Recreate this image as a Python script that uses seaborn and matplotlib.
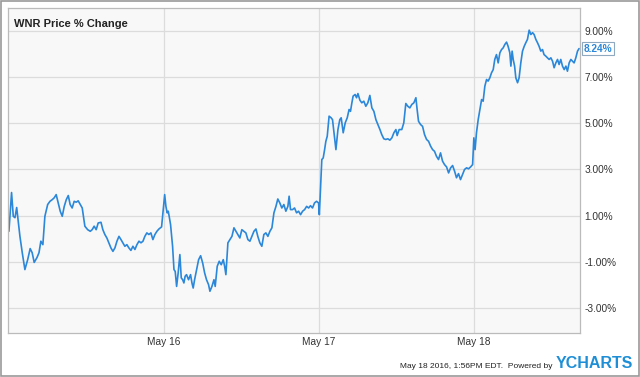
import numpy as np
import pandas as pd
import matplotlib.pyplot as plt
import seaborn as sns
from matplotlib.patches import Rectangle

# data: trading time in days from the left edge, % change
day_pos = [
    0.000, 0.017, 0.028, 0.039, 0.050, 0.060, 0.071, 0.086, 0.103, 0.121, 0.137, 0.150, 0.163, 0.181,
    0.194, 0.206, 0.219, 0.232, 0.250, 0.265, 0.279, 0.292, 0.305, 0.318, 0.331, 0.344, 0.357, 0.370,
    0.383, 0.395, 0.408, 0.421, 0.434, 0.447, 0.460, 0.473, 0.490, 0.508, 0.525, 0.537, 0.550, 0.563,
    0.576, 0.594, 0.606, 0.619, 0.632, 0.645, 0.658, 0.671, 0.684, 0.697, 0.710, 0.723, 0.735, 0.748,
    0.761, 0.774, 0.787, 0.800, 0.813, 0.826, 0.839, 0.852, 0.865, 0.877, 0.890, 0.903, 0.916, 0.929,
    0.942, 0.955, 0.968, 0.985,
    1.005, 1.013, 1.021, 1.028, 1.034, 1.043, 1.056, 1.065, 1.073, 1.082, 1.092, 1.103, 1.112, 1.121,
    1.129, 1.137, 1.146, 1.159, 1.172, 1.181, 1.189, 1.198, 1.211, 1.224, 1.237, 1.250, 1.263, 1.275,
    1.288, 1.297, 1.310, 1.323, 1.331, 1.344, 1.357, 1.370, 1.383, 1.392, 1.400, 1.413, 1.426, 1.439,
    1.452, 1.465, 1.477, 1.490, 1.503, 1.516, 1.529, 1.542, 1.555, 1.568, 1.581, 1.594, 1.606, 1.619,
    1.632, 1.645, 1.658, 1.671, 1.684, 1.697, 1.710, 1.723, 1.735, 1.748, 1.761, 1.774, 1.787, 1.800,
    1.808, 1.817, 1.830, 1.843, 1.856, 1.869, 1.882, 1.895, 1.908, 1.921, 1.934, 1.946, 1.959, 1.972,
    1.985, 1.998,
    2.003, 2.019, 2.028, 2.037, 2.045, 2.054, 2.066, 2.079, 2.088, 2.101, 2.110, 2.123, 2.135, 2.144,
    2.157, 2.170, 2.183, 2.195, 2.204, 2.213, 2.221, 2.234, 2.243, 2.252, 2.265, 2.277, 2.290, 2.303,
    2.316, 2.329, 2.342, 2.355, 2.368, 2.381, 2.394, 2.406, 2.419, 2.432, 2.445, 2.458, 2.471, 2.484,
    2.497, 2.505, 2.518, 2.535, 2.548, 2.561, 2.574, 2.587, 2.600, 2.613, 2.626, 2.634, 2.643, 2.656,
    2.669, 2.682, 2.695, 2.708, 2.721, 2.734, 2.746, 2.759, 2.772, 2.785, 2.798, 2.811, 2.824, 2.837,
    2.850, 2.863, 2.876, 2.888, 2.901, 2.914, 2.927, 2.940, 2.953, 2.966, 2.979, 2.992,
    3.000, 3.008, 3.017, 3.028, 3.039, 3.050, 3.060, 3.071, 3.082, 3.092, 3.103, 3.114, 3.125, 3.135,
    3.146, 3.157, 3.168, 3.179, 3.189, 3.200, 3.211, 3.221, 3.232, 3.239, 3.247, 3.254, 3.263, 3.271,
    3.282, 3.292, 3.303, 3.314, 3.325, 3.335, 3.346, 3.357, 3.368, 3.379, 3.389, 3.400, 3.411, 3.421,
    3.432, 3.443, 3.453, 3.465, 3.475, 3.486, 3.497, 3.508, 3.518, 3.529, 3.540, 3.550, 3.561, 3.572,
    3.583, 3.594, 3.604, 3.615, 3.626, 3.637, 3.647, 3.658, 3.669, 3.679,
]
pct_change = [
    0.32, 2.00, 0.97, 0.91, 1.35, 0.75, 0.10, -0.61, -1.34, -0.91, -0.43, -0.61, -1.03, -0.82,
    -0.61, -0.11, -0.26, 0.97, 1.48, 1.62, 1.69, 1.77, 1.91, 1.55, 1.19, 0.97, 1.40, 1.69,
    1.87, 1.48, 1.33, 1.62, 1.58, 1.64, 1.48, 1.33, 0.54, 0.39, 0.32, 0.39, 0.54, 0.39,
    0.68, 0.71, 0.39, 0.18, 0.03, -0.18, -0.40, -0.55, -0.40, -0.11, 0.10, -0.04, -0.18, -0.33,
    -0.26, -0.40, -0.51, -0.33, -0.47, -0.26, -0.11, -0.18, -0.11, 0.10, 0.25, 0.18, 0.25, -0.04,
    0.18, 0.32, 0.42, 0.51,
    1.91, 1.40, 1.12, 1.19, 0.97, 0.61, -0.33, -1.34, -1.42, -2.07, -1.49, -0.69, -1.70, -1.78,
    -1.92, -1.63, -1.56, -1.78, -1.56, -1.92, -2.14, -1.78, -1.34, -0.91, -0.74, -1.05, -1.49, -1.78,
    -1.99, -2.28, -2.07, -1.78, -2.07, -1.20, -0.98, -1.13, -0.91, -1.20, -1.56, -0.18, -0.04, 0.10,
    0.47, 0.32, 0.18, 0.03, 0.39, 0.32, 0.25, -0.04, -0.11, 0.10, 0.32, 0.42, 0.10, -0.18,
    -0.33, 0.18, 0.25, 0.10, 0.32, 0.47, 1.12, 1.40, 1.72, 1.55, 1.33, 1.48, 1.19, 1.40,
    1.84, 1.26, 1.26, 1.33, 1.12, 1.19, 1.04, 1.19, 1.26, 1.40, 1.33, 1.43, 1.33, 1.55,
    1.62, 1.55,
    1.04, 3.43, 3.50, 3.86, 4.22, 4.44, 5.31, 5.24, 5.16, 4.37, 3.86, 4.73, 5.16, 5.24,
    4.59, 5.02, 5.24, 5.60, 5.52, 5.89, 6.18, 6.25, 6.11, 6.29, 6.00, 5.89, 5.96, 5.74,
    5.89, 6.21, 5.67, 5.52, 5.16, 4.95, 4.73, 4.51, 4.33, 4.30, 4.33, 4.27, 4.37, 4.59,
    4.73, 4.47, 4.73, 4.73, 5.02, 5.86, 5.74, 5.67, 5.82, 5.89, 6.11, 5.60, 5.09, 4.95,
    4.87, 4.51, 4.30, 4.22, 4.01, 3.86, 3.79, 3.57, 3.43, 3.72, 3.36, 3.21, 3.11, 2.85,
    3.07, 3.17, 2.92, 2.64, 2.82, 2.56, 2.78, 3.00, 3.07, 3.03, 3.11, 3.21,
    4.37, 3.86, 4.59, 5.16, 5.60, 6.03, 5.96, 6.61, 6.90, 6.83, 6.97, 7.19, 7.33, 7.77,
    7.98, 7.62, 8.06, 8.20, 8.27, 8.42, 8.52, 8.34, 8.06, 7.48, 8.13, 7.77, 7.48, 6.97,
    6.76, 6.97, 7.62, 8.13, 8.34, 8.49, 8.64, 9.04, 8.85, 8.93, 8.85, 8.64, 8.49, 8.34,
    8.13, 8.20, 7.98, 7.91, 7.84, 7.77, 7.84, 7.69, 7.41, 7.62, 7.77, 7.55, 7.77, 7.48,
    7.33, 7.48, 7.26, 7.62, 7.77, 7.69, 7.62, 7.84, 8.13, 8.24,
]
date_ticks = [1, 2, 3]
date_labels = ['May 16', 'May 17', 'May 18']
pct_ticks = [-3, -1, 1, 3, 5, 7, 9]
last_value = 8.24

df = pd.DataFrame({'day': day_pos, 'pct': pct_change})

sns.set_style('white')
plt.rcParams['font.family'] = ['Liberation Sans', 'DejaVu Sans']

fig = plt.figure(figsize=(6.4, 3.77), dpi=100)
fig.patch.set_facecolor('white')
ax = fig.add_axes([8 / 640, 1 - 333 / 377, 572 / 640, 325 / 377])
ax.set_facecolor('#f8f8f8')

sns.lineplot(data=df, x='day', y='pct', ax=ax, color='#2b87d9', lw=1.2,
             estimator=None, sort=False)

ax.set_xlim(-0.006, 3.685)
ax.set_ylim(-4.09, 10.0)
ax.set_xticks(date_ticks)
ax.set_xticklabels(date_labels)
ax.set_yticks(pct_ticks)
ax.set_yticklabels([f'{v:.2f}%' for v in pct_ticks])
ax.yaxis.tick_right()
ax.tick_params(axis='both', length=0, labelsize=7.3, colors='#333333')
ax.tick_params(axis='y', pad=3)
ax.tick_params(axis='x', pad=3)
ax.set_xlabel('')
ax.set_ylabel('')
ax.grid(True, color='#dcdcdc', lw=0.9)
ax.set_axisbelow(True)
for s in ax.spines.values():
    s.set_visible(True)
    s.set_color('#bbbbbb')
    s.set_linewidth(0.9)

# title
ax.text(0.011, 0.965, 'WNR Price % Change', transform=ax.transAxes, fontsize=8,
        fontweight='bold', color='#222222', ha='left', va='top')

# last value badge
ax.annotate(f'{last_value:.2f}%', xy=(1.0, last_value), xycoords=('axes fraction', 'data'),
            xytext=(2.5, 0), textcoords='offset points', fontsize=7.3, color='#2b87d9',
            fontweight='bold', ha='left', va='center',
            bbox=dict(boxstyle='square,pad=0.15', fc='white', ec='#8fa9c0', lw=0.8))

# footer
fig.text(553 / 640, 1 - 366 / 377, 'May 18 2016, 1:56PM EDT.  Powered by', fontsize=6,
         color='#222222', ha='right', va='center')
fig.text(633 / 640, 1 - 364 / 377, 'YCHARTS', fontsize=11.5, fontweight='bold',
         color='#1e8fd6', ha='right', va='center')

# outer border
fig.patches.append(Rectangle((0.001, 0.002), 0.997, 0.995, transform=fig.transFigure,
                             fill=False, ec='#999999', lw=1.2))

fig.savefig('out.png', dpi=100)
